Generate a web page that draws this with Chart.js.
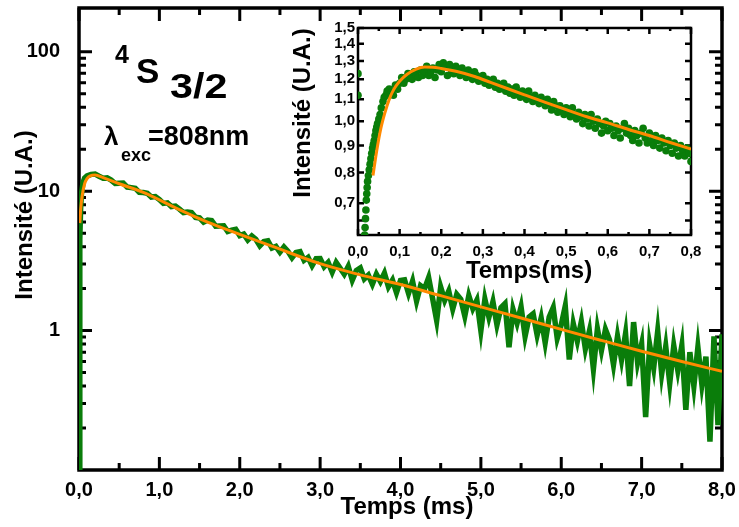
<!DOCTYPE html>
<html><head><meta charset="utf-8">
<script src="https://cdn.jsdelivr.net/npm/chart.js@4.4.0/dist/chart.umd.min.js"></script>
<style>
html,body{margin:0;padding:0;background:#fff;}
#wrap{position:relative;width:739px;height:527px;overflow:hidden;font-family:'Liberation Sans',Arial,sans-serif;font-weight:bold;}
canvas{position:absolute;}
#main{left:0;top:0;width:739px;height:527px;}
#inset{left:280px;top:0;width:440px;height:300px;}
.t{position:absolute;line-height:1;white-space:nowrap;color:#000;transform-origin:0 0;}
</style></head>
<body><div id="wrap">
<canvas id="main" width="739" height="527"></canvas>
<canvas id="inset" width="440" height="300"></canvas>
<div class="t" style="left:115px;top:42px;font-size:25px;">4</div>
<div class="t" style="left:136px;top:53px;font-size:35px;">S</div>
<div class="t" style="left:170px;top:68px;font-size:35px;transform:scaleX(1.18);">3/2</div>
<div class="t" style="left:104px;top:123px;font-size:26px;">λ</div>
<div class="t" style="left:121px;top:146px;font-size:18px;">exc</div>
<div class="t" style="left:148px;top:123px;font-size:27px;">=808nm</div>
</div>
<script>
// ---------- main decay curve (log scale) ----------
const mainTime = [0,0.01,0.02,0.03,0.05,0.07,
 0.10,0.15,0.20,0.25,0.30,0.35,0.40,0.45,0.50,0.55,0.60,0.65,0.70,0.75,0.80,0.85,0.90,0.95,1.00,1.05,
 1.10,1.15,1.20,1.25,1.30,1.35,1.40,1.45,1.50,1.55,1.60,1.65,1.70,1.75,1.80,1.85,1.90,1.95,2.00,2.05,
 2.10,2.15,2.20,2.25,2.30,2.35,2.40,2.45,2.50,2.55,2.60,2.65,2.70,2.75,2.80,2.85,2.90,2.95,3.00,3.05,
 3.10,3.15,3.20,3.25,3.30,3.35,3.40,3.45,3.50,3.55,3.60,3.65,3.70,3.75,3.80,3.85,3.90,3.95,4.00,4.05,
 4.10,4.15,4.20,4.25,4.30,4.35,4.40,4.45,4.50,4.55,4.60,4.65,4.70,4.75,4.80,4.85,4.90,4.95,5.00,5.05,
 5.10,5.15,5.20,5.25,5.30,5.35,5.40,5.45,5.50,5.55,5.60,5.65,5.70,5.75,5.80,5.85,5.90,5.95,6.00,6.05,
 6.10,6.15,6.20,6.25,6.30,6.35,6.40,6.45,6.50,6.55,6.60,6.65,6.70,6.75,6.80,6.85,6.90,6.95,7.00,7.05,
 7.10,7.15,7.20,7.25,7.30,7.35,7.40,7.45,7.50,7.55,7.60,7.65,7.70,7.75,7.80,7.85,7.90,7.95,8.00];
const mainIntensity = [0.08,4.5,7.5,9.5,11.5,12.4,
 12.85,13.2,13.25,12.8,12.4,12.45,12.0,11.35,11.4,11.45,10.7,10.6,10.5,9.8,9.77,9.65,9.08,9.15,8.7,8.17,
 8.25,7.76,7.82,7.44,7.02,7.09,7.03,6.49,6.43,6.0,6.21,6.16,5.61,5.63,5.65,5.13,5.25,5.32,4.8,4.92,
 4.47,4.77,4.52,4.06,4.35,4.41,3.91,4.02,3.65,3.98,3.7,3.33,3.63,3.68,3.19,3.35,2.92,3.28,3.29,2.87,
 3.08,2.63,3.08,2.8,2.54,2.89,2.3,2.69,2.81,2.35,2.5,2.15,2.54,2.25,2.58,2.06,2.3,1.87,2.29,2.31,
 1.85,2.26,1.63,2.1,2.0,2.4,1.69,1.18,2.05,1.65,1.92,1.43,1.82,1.68,1.27,1.78,1.44,1.65,1.0,1.68,
 1.25,1.61,1.1,1.46,1.56,0.76,1.42,1.13,1.48,0.91,1.25,1.32,0.93,1.23,0.82,1.25,1.46,0.88,1.1,1.5,
 0.62,1.12,0.84,1.16,0.74,0.99,0.53,1.03,0.72,1.02,0.86,0.57,0.91,0.62,0.95,0.4,1.15,0.59,0.8,0.24,
 0.79,0.54,0.99,0.49,0.77,0.42,0.78,0.52,0.78,0.27,0.7,0.4,0.76,0.41,0.65,0.16,0.91,0.21,0.94];
const fitTime = [0.01,0.02,0.04,0.07,0.10,0.14,0.20,0.30,0.50,0.80,1.2,1.6,2.0,2.4,3.0,3.5,4.0,4.5,5.0,5.5,6.0,6.5,7.0,7.5,8.0];
const fitValue = [5.9,7.3,9.3,11.3,12.3,12.9,13.05,12.5,11.3,9.8,7.6,6.0,4.9,4.03,3.02,2.51,2.14,1.78,1.48,1.23,1.02,0.85,0.71,0.60,0.51];
const mainXMajor = [0,1,2,3,4,5,6,7,8];
const mainXMinor = [0.5,1.5,2.5,3.5,4.5,5.5,6.5,7.5];
const mainYMajor = [1,10,100];
const mainYMinor = [0.2,0.3,0.4,0.5,0.6,0.7,0.8,0.9,2,3,4,5,6,7,8,9,20,30,40,50,60,70,80,90];

// ---------- inset (rise and early decay) ----------
const insetTime = [0,0,0.016,0.017,0.018,0.019,0.020,0.021,0.022,0.023,0.025,0.027,0.029,0.031,0.033,0.035,0.037,0.039,0.041,0.043,0.045,0.047,0.050,0.053,0.056,0.060,0.063,0.067,0.070,0.075,
 0.080,0.085,0.090,0.095,0.100,0.105,0.110,0.115,0.120,0.125,0.130,0.135,0.140,0.145,0.150,0.155,0.160,0.165,0.170,0.175,
 0.180,0.185,0.190,0.195,0.200,0.205,0.210,0.215,0.220,0.225,0.230,0.235,0.240,0.245,0.250,0.255,0.260,0.265,0.270,0.275,
 0.280,0.285,0.290,0.295,0.300,0.305,0.310,0.315,0.320,0.325,0.330,0.335,0.340,0.345,0.350,0.355,0.360,0.365,0.370,0.375,
 0.380,0.385,0.390,0.395,0.400,0.405,0.410,0.415,0.420,0.425,0.430,0.435,0.440,0.445,0.450,0.455,0.460,0.465,0.470,0.475,
 0.480,0.485,0.490,0.495,0.500,0.505,0.510,0.515,0.520,0.525,0.530,0.535,0.540,0.545,0.550,0.555,0.560,0.565,0.570,0.575,
 0.580,0.585,0.590,0.595,0.600,0.605,0.610,0.615,0.620,0.625,0.630,0.635,0.640,0.645,0.650,0.655,0.660,0.665,0.670,0.675,
 0.680,0.685,0.690,0.695,0.700,0.705,0.710,0.715,0.720,0.725,0.730,0.735,0.740,0.745,0.750,0.755,0.760,0.765,0.770,0.775,
 0.780,0.785,0.790,0.795,0.800];
const insetIntensity = [1.23,1.12,0.61,0.63,0.655,0.68,0.71,0.73,0.75,0.77,0.79,0.81,0.83,0.85,0.87,0.89,0.905,0.92,0.94,0.96,0.975,0.99,1.01,1.03,1.06,1.09,1.11,1.12,1.14,1.15,
 1.13,1.12,1.17,1.15,1.18,1.21,1.18,1.20,1.23,1.21,1.20,1.24,1.22,1.21,1.25,1.22,1.24,1.27,1.22,1.24,
 1.26,1.21,1.25,1.28,1.24,1.29,1.27,1.22,1.28,1.25,1.23,1.27,1.25,1.22,1.26,1.24,1.21,1.25,1.23,1.20,
 1.24,1.22,1.19,1.21,1.22,1.18,1.20,1.17,1.19,1.20,1.16,1.18,1.15,1.17,1.18,1.14,1.16,1.13,1.15,1.12,
 1.16,1.13,1.11,1.14,1.12,1.10,1.14,1.11,1.09,1.12,1.10,1.08,1.11,1.09,1.07,1.10,1.08,1.05,1.09,1.07,
 1.04,1.07,1.05,1.03,1.06,1.04,1.02,1.06,1.03,1.01,1.04,1.02,0.99,1.03,1.01,0.98,1.03,1.00,0.97,1.01,
 0.99,0.95,0.98,1.00,0.96,0.99,0.97,0.94,0.98,0.96,0.93,0.97,0.99,0.95,0.97,0.94,0.92,0.96,0.94,0.91,
 0.95,0.97,0.93,0.91,0.95,0.92,0.90,0.94,0.92,0.89,0.93,0.91,0.88,0.92,0.90,0.87,0.91,0.89,0.86,0.90,
 0.88,0.86,0.89,0.87,0.84];
const insetFitTime = [0.036,0.045,0.055,0.065,0.075,0.085,0.10,0.118,0.14,0.16,0.18,0.20,0.24,0.28,0.32,0.36,0.40,0.45,0.50,0.55,0.60,0.65,0.70,0.75,0.80];
const insetFitValue = [0.79,0.88,0.97,1.04,1.10,1.145,1.19,1.227,1.255,1.266,1.265,1.258,1.24,1.215,1.183,1.152,1.122,1.086,1.052,1.02,0.993,0.965,0.94,0.912,0.886];
const insetXMajor = [0,0.1,0.2,0.3,0.4,0.5,0.6,0.7,0.8];
const insetXMinor = [0.05,0.15,0.25,0.35,0.45,0.55,0.65,0.75];
const insetYLabels = [0.7,0.8,0.9,1.0,1.1,1.2,1.3,1.4,1.5];
const insetYTicks = [0.65,0.7,0.8,0.9,1.0,1.1,1.2,1.3,1.4,1.5];

const GREEN = '#0a7d0a';
const ORANGE = '#ff8a00';
const FONT = "'Liberation Sans', Arial, sans-serif";
const comma = v => Number(v).toFixed(1).replace('.', ',');
const pts = (xs, ys) => xs.map((x, i) => ({x: x, y: ys[i]}));
const noPad = s => { s.paddingTop = 0; s.paddingBottom = 0; s.paddingLeft = 0; s.paddingRight = 0; };

const framePlugin = {
  id: 'frame',
  beforeDatasetsDraw(chart, args, o) {
    const ctx = chart.ctx, a = chart.chartArea, x = chart.scales.x, y = chart.scales.y;
    ctx.save();
    ctx.strokeStyle = '#000';
    ctx.lineWidth = o.lw;
    ctx.strokeRect(a.left, a.top, a.right - a.left, a.bottom - a.top);
    ctx.lineWidth = o.tw;
    ctx.beginPath();
    const xt = o.xMajor.map(v => [v, o.major]).concat(o.xMinor.map(v => [v, o.minor]));
    const yt = o.yMajor.map(v => [v, o.major]).concat(o.yMinor.map(v => [v, o.minor]));
    xt.forEach(([v, len]) => { const p = x.getPixelForValue(v);
      ctx.moveTo(p, a.bottom); ctx.lineTo(p, a.bottom - len);
      ctx.moveTo(p, a.top); ctx.lineTo(p, a.top + len); });
    yt.forEach(([v, len]) => { const p = y.getPixelForValue(v);
      ctx.moveTo(a.left, p); ctx.lineTo(a.left + len, p);
      ctx.moveTo(a.right, p); ctx.lineTo(a.right - len, p); });
    ctx.stroke();
    ctx.fillStyle = '#000';
    ctx.font = o.titleFont;
    ctx.textAlign = 'center';
    ctx.textBaseline = 'middle';
    ctx.fillText(o.xTitle, o.xTitlePos[0], o.xTitlePos[1]);
    ctx.translate(o.yTitlePos[0], o.yTitlePos[1]);
    ctx.rotate(-Math.PI / 2);
    ctx.fillText(o.yTitle, 0, 0);
    ctx.restore();
  }
};

new Chart(document.getElementById('main'), {
  type: 'line',
  data: { datasets: [
    { data: pts(mainTime, mainIntensity), order: 2, borderColor: GREEN, borderWidth: 5.5, pointRadius: 0, tension: 0 },
    { data: pts(fitTime, fitValue), order: 1, borderColor: ORANGE, borderWidth: 3, pointRadius: 0, cubicInterpolationMode: 'monotone' }
  ]},
  options: {
    responsive: false, animation: false, devicePixelRatio: 1,
    layout: { padding: { left: 0, right: 17, top: 8, bottom: 0 } },
    plugins: { legend: { display: false }, tooltip: { enabled: false },
      frame: { lw: 3.5, tw: 3, major: 13, minor: 7, xMajor: mainXMajor, xMinor: mainXMinor, yMajor: mainYMajor, yMinor: mainYMinor,
        titleFont: 'bold 24px ' + FONT, xTitle: 'Temps (ms)', xTitlePos: [407, 507], yTitle: 'Intensité (U.A.)', yTitlePos: [25, 215] } },
    scales: {
      x: { type: 'linear', min: 0, max: 8,
        ticks: { stepSize: 1, autoSkip: false, maxRotation: 0, padding: 8, color: '#000', font: { family: FONT, size: 20, weight: 'bold' }, callback: v => comma(v) },
        grid: { display: false, drawTicks: false, tickLength: 0 }, border: { display: false },
        afterFit: s => { s.height = 57; noPad(s); } },
      y: { type: 'logarithmic', min: 0.1, max: 206,
        afterBuildTicks: s => { s.ticks = mainYMajor.map(v => ({ value: v })); },
        ticks: { autoSkip: false, padding: 19, color: '#000', font: { family: FONT, size: 20, weight: 'bold' }, callback: v => String(v) },
        grid: { display: false, drawTicks: false, tickLength: 0 }, border: { display: false },
        afterFit: s => { s.width = 79; noPad(s); } }
    }
  },
  plugins: [framePlugin]
});

new Chart(document.getElementById('inset'), {
  type: 'line',
  data: { datasets: [
    { data: pts(insetTime, insetIntensity), order: 2, showLine: false, pointRadius: 3.8, pointBorderWidth: 0, pointBackgroundColor: GREEN, borderColor: GREEN },
    { data: pts(insetFitTime, insetFitValue), order: 1, borderColor: ORANGE, borderWidth: 3, pointRadius: 0, cubicInterpolationMode: 'monotone' }
  ]},
  options: {
    responsive: false, animation: false, devicePixelRatio: 1,
    layout: { padding: { left: 0, right: 29, top: 28, bottom: 0 } },
    plugins: { legend: { display: false }, tooltip: { enabled: false },
      frame: { lw: 2.5, tw: 2.5, major: 6, minor: 3, xMajor: insetXMajor, xMinor: insetXMinor, yMajor: insetYTicks, yMinor: [],
        titleFont: 'bold 24px ' + FONT, xTitle: 'Temps(ms)', xTitlePos: [249, 271], yTitle: 'Intensité (U.A.)', yTitlePos: [23, 113] } },
    scales: {
      x: { type: 'linear', min: 0, max: 0.8,
        ticks: { stepSize: 0.1, autoSkip: false, maxRotation: 0, padding: 8, color: '#000', font: { family: FONT, size: 15, weight: 'bold' }, callback: v => comma(v) },
        grid: { display: false, drawTicks: false, tickLength: 0 }, border: { display: false },
        afterFit: s => { s.height = 65; noPad(s); } },
      y: { type: 'logarithmic', min: 0.61, max: 1.5,
        afterBuildTicks: s => { s.ticks = insetYLabels.map(v => ({ value: v })); },
        ticks: { autoSkip: false, padding: 3, color: '#000', font: { family: FONT, size: 15, weight: 'bold' }, callback: v => comma(v) },
        grid: { display: false, drawTicks: false, tickLength: 0 }, border: { display: false },
        afterFit: s => { s.width = 78; noPad(s); } }
    }
  },
  plugins: [framePlugin]
});
</script>
</body></html>
